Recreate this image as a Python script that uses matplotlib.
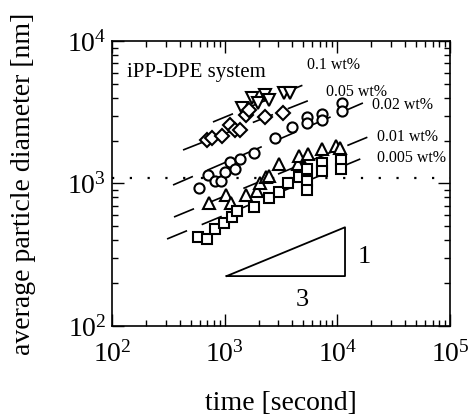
import matplotlib
matplotlib.use("Agg")
import matplotlib.pyplot as plt
from matplotlib.ticker import FuncFormatter, LogLocator
import numpy as np

plt.rcParams['font.family'] = 'serif'
plt.rcParams['font.serif'] = ['Liberation Serif', 'DejaVu Serif']
plt.rcParams['mathtext.fontset'] = 'custom'
plt.rcParams['mathtext.rm'] = 'Liberation Serif'
plt.rcParams['mathtext.it'] = 'Liberation Serif:italic'
plt.rcParams['mathtext.default'] = 'regular'

# ---- data (time [s], diameter [nm]) ----
t_010 = [1424, 1747, 1975, 2278, 2472, 3358, 3796]
d_010 = [3388, 3981, 3673, 4180, 3854, 4317, 4317]

t_005 = [697, 771, 946, 1114, 1234, 1367, 1545, 1643, 2278, 3290]
d_005 = [2018, 2085, 2155, 2574, 2372, 2372, 3026, 3280, 2930, 3126]

t_002 = [592, 711, 820, 927, 1006, 1114, 1234, 1367, 1820, 2794, 3955,
         5375, 5375, 7300, 7300, 10990, 10990]
d_002 = [937, 1138, 1047, 1041, 1205, 1422, 1264, 1479, 1624, 2085, 2490,
         2930, 2660, 3076, 2790, 3673, 3228]

t_001 = [726, 1028, 1137, 1545, 1935, 2056, 2325, 2472, 3034, 4470, 4566,
         5484, 7300, 9720, 10540]
d_001 = [730, 830, 730, 830, 886, 1009, 1111, 1129, 1370, 1370, 1560,
         1611, 1746, 1834, 1775]

t_0005 = [580, 697, 820, 986, 1161, 1286, 1820, 2472, 3034, 3646, 4566,
          5375, 5375, 5375, 7300, 7300, 10760, 10760]
d_0005 = [422, 408, 480, 528, 582, 641, 684, 791, 871, 1009, 1111,
          1264, 1041, 900, 1393, 1224, 1462, 1264]

# guide lines (slope 1/3) endpoints
fit_t = {'0.1': [787, 6070], '0.05': [427, 6330], '0.02': [348, 16870],
         '0.01': [355, 18700], '0.005': [308, 19450]}
fit_d = {'0.1': [2702, 5240], '0.05': [1718, 3981], '0.02': [976, 3673],
         '0.01': [582, 2120], '0.005': [408, 1585]}

series_labels = ['0.1 wt%', '0.05 wt%', '0.02 wt%', '0.01 wt%', '0.005 wt%']
dotted_level = 1090

slope_t = [1040, 11700, 11700, 1040]
slope_d = [224, 224, 493, 224]

# ---- figure ----
fig = plt.figure(figsize=(4.76, 4.19), dpi=100)
ax = fig.add_axes([112/476, 1-326/419, 338/476, 285/419])
ax.set_xscale('log')
ax.set_yscale('log')
ax.set_xlim(1e2, 1e5)
ax.set_ylim(1e2, 1e4)

for key in fit_t:
    ax.plot(fit_t[key], fit_d[key], color='black', lw=1.2,
            linestyle=(0, (13, 9.5)), zorder=2)

ax.axhline(dotted_level, color='black', lw=1.6, linestyle=(0, (1, 7)), zorder=1)

mk = dict(linestyle='none', markerfacecolor='white', markeredgecolor='black',
          markeredgewidth=1.5, zorder=3)
ax.plot(t_010, d_010, marker='v', markersize=8.5, **mk)
ax.plot(t_005, d_005, marker='D', markersize=7.2, **mk)
ax.plot(t_002, d_002, marker='o', markersize=7.3, **mk)
ax.plot(t_001, d_001, marker='^', markersize=8.5, **mk)
ax.plot(t_0005, d_0005, marker='s', markersize=7.3, **mk)

ax.plot(slope_t, slope_d, color='black', lw=1.3, zorder=2)
ax.text(0.746, 0.242, '1', transform=ax.transAxes, fontsize=19,
        ha='center', va='center')
ax.text(0.562, 0.091, '3', transform=ax.transAxes, fontsize=19,
        ha='center', va='center')

ax.text(0.044, 0.888, 'iPP-DPE system', transform=ax.transAxes, fontsize=15,
        ha='left', va='center')
label_pos = [(0.576, 0.916), (0.632, 0.822), (0.768, 0.775), (0.784, 0.664),
             (0.784, 0.588)]
for lab, (x, y) in zip(series_labels, label_pos):
    ax.text(x, y, lab, transform=ax.transAxes, fontsize=11.5,
            ha='left', va='center')

fmt = FuncFormatter(lambda v, p: r'$\mathregular{10^{%d}}$' % int(round(np.log10(v))))
ax.xaxis.set_major_locator(LogLocator(base=10, numticks=10))
ax.yaxis.set_major_locator(LogLocator(base=10, numticks=10))
ax.xaxis.set_minor_locator(LogLocator(base=10, subs=np.arange(2, 10), numticks=20))
ax.yaxis.set_minor_locator(LogLocator(base=10, subs=np.arange(2, 10), numticks=20))
ax.xaxis.set_major_formatter(fmt)
ax.yaxis.set_major_formatter(fmt)
ax.xaxis.set_minor_formatter(FuncFormatter(lambda v, p: ''))
ax.yaxis.set_minor_formatter(FuncFormatter(lambda v, p: ''))

ax.tick_params(which='both', direction='in', top=True, right=True, width=1.0)
ax.tick_params(which='major', length=8.6, labelsize=20)
ax.tick_params(axis='x', which='major', pad=11)
ax.tick_params(axis='y', which='major', pad=4)
ax.tick_params(which='minor', length=4.3)
for s in ax.spines.values():
    s.set_linewidth(1.2)

ax.set_xlabel('time [second]', fontsize=20, va='center')
ax.xaxis.set_label_coords(0.5, (326-403)/285)
ax.set_ylabel('average particle diameter [nm]', fontsize=20, va='center')
ax.yaxis.set_label_coords((24-112)/338, 0.5)

fig.savefig('out.png', dpi=100)
